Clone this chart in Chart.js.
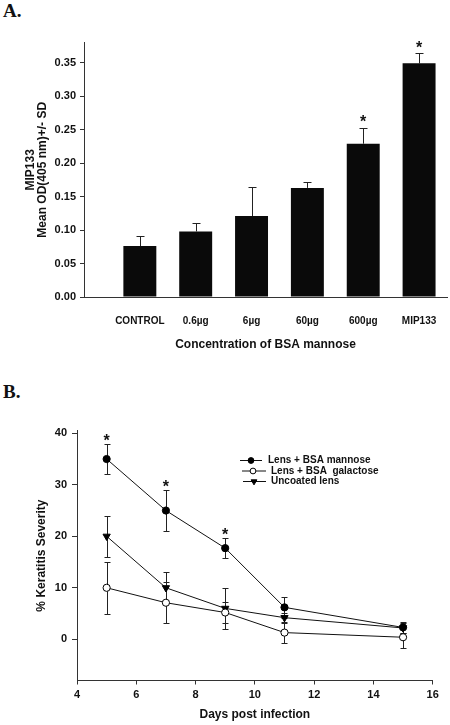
<!DOCTYPE html>
<html><head><meta charset="utf-8">
<script src="https://cdn.jsdelivr.net/npm/chart.js@4.4.1/dist/chart.umd.min.js"></script>
<style>
html,body{margin:0;padding:0;background:#fff;width:450px;height:725px;overflow:hidden;}
.panel{position:absolute;left:0;}
.lbl{position:absolute;left:3px;font:bold 19px "Liberation Serif","Times New Roman",serif;line-height:19px;color:#111;}
</style></head><body>
<div class="lbl" style="top:1px">A.</div>
<div class="panel" style="top:0;"><canvas id="cA" width="450" height="360"></canvas></div>
<div class="lbl" style="top:382px">B.</div>
<div class="panel" style="top:380px;"><canvas id="cB" width="450" height="345"></canvas></div>
<script>
// ---------- Panel A data ----------
const concLabels = ['CONTROL', '0.6\u00b5g', '6\u00b5g', '60\u00b5g', '600\u00b5g', 'MIP133'];
const concPositions = [1, 2, 3, 4, 5, 6];
const odMeans = [0.076, 0.098, 0.121, 0.163, 0.229, 0.349];
const odSD = [0.015, 0.013, 0.043, 0.009, 0.024, 0.015];
const odStars = [false, false, false, false, true, true];
const odTicks = [0, 0.05, 0.10, 0.15, 0.20, 0.25, 0.30, 0.35];

// ---------- Panel B data ----------
const days = [5, 7, 9, 11, 15];
const mannose = [35, 25, 17.7, 6.2, 2.3];
const mannoseSD = [3, 4, 2, 2, 1];
const mannoseStars = [true, true, true, false, false];
const galactose = [10, 7.1, 5.2, 1.3, 0.4];
const galactoseSD = [5, 4, 2, 2, 2];
const uncoated = [20, 10, 6.0, 4.2, 2.2];
const uncoatedSD = [4, 3, 4, 1, 1];
const dayTicks = [4, 6, 8, 10, 12, 14, 16];
const severityTicks = [0, 10, 20, 30, 40];

const INK = '#111';
const SANS = '"Liberation Sans", Arial, Helvetica, sans-serif';

function valOf(d) { return (d && typeof d === 'object') ? d.y : d; }

const errorBars = {
  id: 'errorBars',
  beforeDatasetsDraw(chart, args, opts) {
    const ctx = chart.ctx, ys = chart.scales.y;
    chart.data.datasets.forEach((ds, i) => {
      if (!ds.errors) return;
      const meta = chart.getDatasetMeta(i);
      meta.data.forEach((el, j) => {
        const v = valOf(ds.data[j]), e = ds.errors[j];
        const x = Math.round(el.x) + 0.5;
        const top = Math.round(ys.getPixelForValue(v + e)) + 0.5;
        const bot = opts.upperOnly ? ys.getPixelForValue(v) : Math.round(ys.getPixelForValue(v - e)) + 0.5;
        ctx.save();
        ctx.strokeStyle = opts.color; ctx.lineWidth = 1;
        ctx.beginPath();
        ctx.moveTo(x, top); ctx.lineTo(x, bot);
        ctx.moveTo(x - opts.cap, top); ctx.lineTo(x + opts.cap, top);
        if (!opts.upperOnly) { ctx.moveTo(x - opts.cap, bot); ctx.lineTo(x + opts.cap, bot); }
        ctx.stroke();
        ctx.restore();
      });
    });
  }
};

const stars = {
  id: 'stars',
  afterDatasetsDraw(chart, args, opts) {
    const ctx = chart.ctx, ys = chart.scales.y;
    chart.data.datasets.forEach((ds, i) => {
      if (!ds.stars) return;
      const meta = chart.getDatasetMeta(i);
      meta.data.forEach((el, j) => {
        if (!ds.stars[j]) return;
        const v = valOf(ds.data[j]), e = ds.errors ? ds.errors[j] : 0;
        const cy = ys.getPixelForValue(v + e) - opts.gap;
        ctx.save();
        ctx.fillStyle = INK;
        ctx.font = 'bold ' + opts.size + 'px ' + SANS;
        ctx.textAlign = 'center';
        ctx.textBaseline = 'alphabetic';
        ctx.fillText('*', el.x, cy + opts.size * 0.575);
        ctx.restore();
      });
    });
  }
};

const inlineLegend = {
  id: 'inlineLegend',
  afterDraw(chart, args, opts) {
    const ctx = chart.ctx;
    chart.data.datasets.forEach((ds, i) => {
      const r = opts.rows[i];
      const y = r.y;
      ctx.save();
      ctx.strokeStyle = INK; ctx.lineWidth = 1;
      ctx.beginPath(); ctx.moveTo(r.x0, y + 0.5); ctx.lineTo(r.x1, y + 0.5); ctx.stroke();
      ctx.fillStyle = ds.pointBackgroundColor; ctx.strokeStyle = ds.pointBorderColor;
      ctx.lineWidth = ds.pointBorderWidth;
      Chart.helpers.drawPoint(ctx, {pointStyle: ds.pointStyle, rotation: ds.pointRotation || 0,
        radius: ds.pointRadius * opts.markerScale, borderWidth: ds.pointBorderWidth}, r.xm, y + 0.5);
      ctx.fillStyle = INK;
      ctx.font = 'bold 10px ' + SANS;
      ctx.textAlign = 'left'; ctx.textBaseline = 'middle';
      ctx.fillText(ds.label, r.xt, y + 0.5);
      ctx.restore();
    });
  }
};

// ---------- Chart A ----------
new Chart(document.getElementById('cA'), {
  type: 'bar',
  data: {
    datasets: [{
      label: 'MIP133 binding',
      data: concPositions.map((x, i) => ({x: x, y: odMeans[i]})),
      errors: odSD,
      stars: odStars,
      backgroundColor: '#0a0a0a',
      borderWidth: 0,
      barPercentage: 0.59,
      categoryPercentage: 1
    }]
  },
  options: {
    responsive: false,
    animation: false,
    layout: {padding: {top: 42.6, right: 3, left: 0, bottom: 0}},
    plugins: {
      legend: {display: false}, tooltip: {enabled: false},
      errorBars: {color: '#222', cap: 4, upperOnly: true},
      stars: {gap: 10, size: 16}
    },
    scales: {
      x: {
        type: 'linear', min: 0, max: 6.5, offset: false,
        afterBuildTicks: s => { s.ticks = concPositions.map(v => ({value: v})); },
        afterFit: s => { s.height = 63; },
        grid: {display: false},
        border: {display: true, color: '#333', width: 1},
        ticks: {
          callback: v => concLabels[concPositions.indexOf(v)] || '',
          font: {family: SANS, size: 10, weight: 'bold'}, color: INK,
          padding: 10, autoSkip: false, maxRotation: 0
        },
        title: {display: true, text: 'Concentration of BSA mannose', color: INK,
          font: {family: SANS, size: 12, weight: 'bold', lineHeight: 1}, padding: {top: 0, bottom: 9}}
      },
      y: {
        min: 0, max: 0.38,
        afterBuildTicks: s => { s.ticks = odTicks.map(v => ({value: v})); },
        afterFit: s => { s.width = 84; },
        grid: {display: true, drawOnChartArea: false, drawTicks: true, tickLength: 4, color: '#333'},
        border: {display: true, color: '#333', width: 1},
        ticks: {
          callback: v => Number(v).toFixed(2),
          font: {family: SANS, size: 11, weight: 'bold'}, color: INK, padding: 4
        },
        title: {display: true, text: ['MIP133', 'Mean OD(405 nm)+/- SD'], color: INK,
          font: {family: SANS, size: 12, weight: 'bold', lineHeight: 1.05}, padding: {top: 24, bottom: 0}}
      }
    }
  },
  plugins: [errorBars, stars]
});

// ---------- Chart B ----------
function pts(vals) { return days.map((d, i) => ({x: d, y: vals[i]})); }
new Chart(document.getElementById('cB'), {
  type: 'line',
  data: {
    datasets: [
      {label: 'Lens + BSA mannose', data: pts(mannose), errors: mannoseSD, stars: mannoseStars,
        borderColor: INK, borderWidth: 1, tension: 0, fill: false,
        pointStyle: 'circle', pointRadius: 3.6, pointBackgroundColor: '#000', pointBorderColor: '#000', pointBorderWidth: 1},
      {label: 'Lens + BSA  galactose', data: pts(galactose), errors: galactoseSD,
        borderColor: INK, borderWidth: 1, tension: 0, fill: false,
        pointStyle: 'circle', pointRadius: 3.6, pointBackgroundColor: '#fff', pointBorderColor: '#000', pointBorderWidth: 1},
      {label: 'Uncoated lens', data: pts(uncoated), errors: uncoatedSD,
        borderColor: INK, borderWidth: 1, tension: 0, fill: false,
        pointStyle: 'triangle', pointRotation: 180, pointRadius: 4.2, pointBackgroundColor: '#000', pointBorderColor: '#000', pointBorderWidth: 1}
    ]
  },
  options: {
    responsive: false,
    animation: false,
    layout: {padding: {top: 50.7, right: 17.3, left: 0, bottom: 0}},
    plugins: {
      legend: {display: false}, tooltip: {enabled: false},
      errorBars: {color: '#222', cap: 3, upperOnly: false},
      stars: {gap: 7, size: 16},
      inlineLegend: {markerScale: 0.8, rows: [
        {x0: 240, x1: 262, xm: 251, xt: 268, y: 80},
        {x0: 242, x1: 266, xm: 253, xt: 271, y: 90.5},
        {x0: 243, x1: 266, xm: 254, xt: 271, y: 101}
      ]}
    },
    scales: {
      x: {
        type: 'linear', min: 4, max: 16,
        afterBuildTicks: s => { s.ticks = dayTicks.map(v => ({value: v})); },
        afterFit: s => { s.height = 44.5; },
        grid: {display: true, drawOnChartArea: false, drawTicks: true, tickLength: 4, color: '#333'},
        border: {display: true, color: '#333', width: 1},
        ticks: {font: {family: SANS, size: 11, weight: 'bold'}, color: INK, padding: 4, maxRotation: 0, autoSkip: false},
        title: {display: true, text: 'Days post infection', color: INK,
          font: {family: SANS, size: 12, weight: 'bold', lineHeight: 1}, padding: {top: 0, bottom: 4}}
      },
      y: {
        min: -8, max: 40.5,
        afterBuildTicks: s => { s.ticks = severityTicks.map(v => ({value: v})); },
        afterFit: s => { s.width = 77; },
        grid: {display: true, drawOnChartArea: false, drawTicks: true, tickLength: 5, color: '#333'},
        border: {display: true, color: '#333', width: 1},
        ticks: {font: {family: SANS, size: 11, weight: 'bold'}, color: INK, padding: 5},
        title: {display: true, text: '% Keratitis Severity', color: INK,
          font: {family: SANS, size: 12, weight: 'bold', lineHeight: 1}, padding: {top: 36, bottom: 0}}
      }
    }
  },
  plugins: [errorBars, stars, inlineLegend]
});
</script>
</body></html>
